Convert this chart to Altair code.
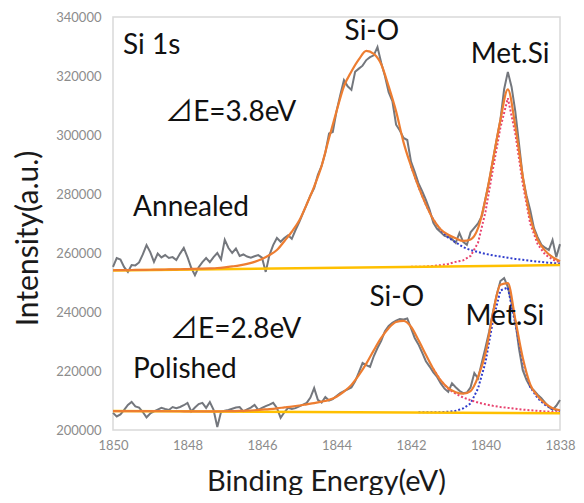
import altair as alt
import pandas as pd

# ---------------- data ----------------
energy_raw = [round(1850 - 0.1 * i, 1) for i in range(121)]   # 1850.0 -> 1838.0
energy_fit = [round(1850 - 0.2 * i, 1) for i in range(61)]    # 1850.0 -> 1838.0

annealed_raw = [
    255300, 258300, 257800, 255200, 253600, 255900, 255800, 256800, 259500, 262700,
    260300, 257000, 259800, 258500, 259300, 258300, 258600, 257600, 259800, 261700,
    258600, 255000, 252500, 255200, 256900, 258300, 256900, 258600, 260000, 257800,
    264500, 261700, 260000, 261500, 259000, 259500, 258800, 258400, 258900, 259300,
    258400, 253600, 259300, 262700, 265100, 263800, 265100, 266000, 264800, 267800,
    270500,
    273500, 276500, 279500, 282000, 286500, 289500, 294000, 300500, 301000, 308000,
    313500, 318600, 316500, 315300, 321400, 322500, 323500, 325400, 326400, 327000,
    329800, 324500, 320000, 314500, 311500, 303500, 301500, 299000, 298300, 291000,
    287500, 283700, 281000, 278000, 274600, 270200, 268200, 267000, 265800, 265500,
    264700, 263400, 266800, 263800, 262800, 267000, 268500, 270000, 272500, 278500,
    284500, 291500, 298500, 305100, 315500, 321400, 316300, 308000, 297000, 285800,
    279500, 274600, 268500, 265400, 262800, 261800, 261000, 264400, 258600, 263000,
]

polished_raw = [
    205800, 204600, 205300, 206800, 208500, 209500, 208000, 207600, 206100, 204300,
    205600, 206300, 206900, 207500, 207100, 206800, 207800, 207400, 207800, 208400,
    209200, 206300, 207600, 208800, 209200, 207500, 209500, 206800, 201000, 206100,
    206500, 206800, 207200, 207600, 207800, 206300, 207000, 207600, 208500, 206800,
    207500, 208100, 208600, 209200, 207500, 204100, 206000, 207500, 207100, 207400,
    208000, 208600, 209200, 211000, 214200, 210200, 209300, 211200, 210000, 210500,
    211500, 212500, 213200, 213800, 214400, 216500, 219500, 222700, 222000, 221400,
    225000, 227800, 230200, 233500, 235300, 236300, 237100, 237600, 237500, 237800,
    234500, 231200, 229000, 226200, 223300, 221500, 219500, 218000, 215800, 214000,
    212900, 215800, 214500, 213300, 212500, 212700, 214500, 219300, 217500, 222800,
    228000, 233500, 240000, 245800, 250500, 251500, 248500, 243000, 237000, 227500,
    220300, 217000, 214600, 213400, 212000, 210800, 209300, 207800, 206900, 208200,
    210200,
]

annealed_fit = [
    254150, 254190, 254220, 254260, 254290, 254330, 254370, 254410, 254450, 254500,
    254560, 254630, 254710, 254800, 254920, 255150, 255450, 255800, 256300, 257000,
    258000, 259300, 261000, 264000, 267200, 271000, 276500, 282500, 289500, 299000,
    308000, 316500, 321500, 325600, 328500, 327500, 324000, 316500, 308000, 297500,
    289500, 282500, 276400, 271300, 268000, 266200, 265000, 264100, 264600, 268400,
    278300, 291500, 305000, 315500, 303000, 286000, 272000, 264500, 260800, 258600,
    257200,
]

polished_fit = [
    206420, 206420, 206410, 206400, 206390, 206380, 206370, 206360, 206350, 206350,
    206340, 206330, 206330, 206330, 206340, 206360, 206400, 206450, 206550, 206700,
    206900, 207100, 207350, 207650, 207950, 208300, 208700, 209100, 209600, 210200,
    211300, 213000, 215300, 218600, 222500, 227000, 231200, 234500, 236600, 237000,
    235000, 230500, 225500, 220700, 216800, 214200, 212800, 212300, 213200, 218000,
    226000, 239500, 249200, 249800, 237500, 224500, 215500, 211500, 209000, 207400,
    206700,
]

# component peaks (only where they leave the envelope / baseline)
ann_metsi_energy = [1842.0, 1841.8, 1841.6, 1841.4, 1841.2, 1841.0, 1840.8, 1840.6, 1840.4, 1840.2,
                    1840.0, 1839.8, 1839.6, 1839.4, 1839.2, 1839.0, 1838.8, 1838.6, 1838.4, 1838.2, 1838.0]
ann_metsi = [255300, 255330, 255400, 255600, 255900, 256300, 257000, 257500, 259000, 263500,
             274000, 288500, 302500, 312500, 300500, 283500, 270000, 263000, 259500, 257800, 256800]
ann_sio_energy = ann_metsi_energy
ann_sio = [289500, 282500, 276400, 271300, 267700, 265200, 263600, 262000, 261000, 260300,
           259700, 259200, 258800, 258400, 258000, 257700, 257400, 257100, 256800, 256600, 256400]

pol_sio_energy = [1841.4, 1841.2, 1841.0, 1840.8, 1840.6, 1840.4, 1840.2, 1840.0, 1839.8, 1839.6,
                  1839.4, 1839.2, 1839.0, 1838.8, 1838.6, 1838.4, 1838.2, 1838.0]
pol_sio = [220700, 216700, 213900, 212300, 211000, 210100, 209300, 208700, 208200, 207800,
           207500, 207200, 206900, 206700, 206500, 206300, 206100, 206000]
pol_metsi_energy = [1841.8, 1841.6, 1841.4, 1841.2, 1841.0, 1840.8, 1840.6, 1840.4, 1840.2, 1840.0,
                    1839.8, 1839.6, 1839.4, 1839.2, 1839.0, 1838.8, 1838.6, 1838.4, 1838.2, 1838.0]
pol_metsi = [205980, 206000, 206020, 206050, 206200, 206500, 207300, 209000, 214100, 223000,
             237000, 247300, 248300, 236000, 223300, 214600, 210800, 208500, 207000, 206400]

baseline_energy = [1850.0, 1838.0]
annealed_baseline = [254100, 255900]
polished_baseline = [206400, 205700]

x_ticks = [1850, 1848, 1846, 1844, 1842, 1840, 1838]
y_ticks = [200000, 220000, 240000, 260000, 280000, 300000, 320000, 340000]

labels_left = ["Si 1s", "\u22bfE=3.8eV", "Annealed", "\u22bfE=2.8eV", "Polished"]
labels_left_x = [1849.73, 1848.60, 1849.46, 1848.47, 1849.46]
labels_left_y = [327500, 304750, 272550, 231200, 217600]
labels_center = ["Si-O", "Met.Si", "Si-O", "Met.Si"]
labels_center_x = [1843.05, 1839.34, 1842.38, 1839.48]
labels_center_y = [332200, 324400, 242000, 235600]

# ---------------- build table ----------------
rows = []


def add(sample, series, xs, ys):
    for x, y in zip(xs, ys):
        rows.append({"sample": sample, "series": series, "energy": x, "intensity": y})


add("Annealed", "raw", energy_raw, annealed_raw)
add("Polished", "raw", energy_raw, polished_raw)
add("Annealed", "fit", energy_fit, annealed_fit)
add("Polished", "fit", energy_fit, polished_fit)
add("Annealed", "base", baseline_energy, annealed_baseline)
add("Polished", "base", baseline_energy, polished_baseline)
add("Annealed", "blue", ann_sio_energy, ann_sio)
add("Annealed", "red", ann_metsi_energy, ann_metsi)
add("Polished", "red", pol_sio_energy, pol_sio)
add("Polished", "blue", pol_metsi_energy, pol_metsi)
df = pd.DataFrame(rows)

lab_l = pd.DataFrame({"energy": labels_left_x, "intensity": labels_left_y, "text": labels_left})
lab_c = pd.DataFrame({"energy": labels_center_x, "intensity": labels_center_y, "text": labels_center})

FONT = "Lato, 'Noto Sans CJK JP', sans-serif"

x_enc = alt.X(
    "energy:Q",
    scale=alt.Scale(domain=[1838, 1850], reverse=True, nice=False, zero=False),
    axis=alt.Axis(
        values=x_ticks, format="d", title="Binding Energy(eV)", grid=False, ticks=False,
        domain=False, labelFlush=False, labelPadding=9, labelFont=FONT, labelFontSize=13,
        labelColor="#8c8c8c",
        titleFont=FONT, titleFontSize=29, titleFontWeight="normal", titleColor="#1a1a1a",
        titleX=213, titleY=60, titleAlign="center", titleBaseline="alphabetic",
    ),
)
y_enc = alt.Y(
    "intensity:Q",
    scale=alt.Scale(domain=[200000, 340000], nice=False, zero=False),
    axis=alt.Axis(
        values=y_ticks, format="d", title="Intensity(a.u.)", grid=False, ticks=False,
        domain=False, labelFlush=False, labelPadding=12, labelFont=FONT, labelFontSize=13,
        labelColor="#8c8c8c",
        titleFont=FONT, titleFontSize=30, titleFontWeight="normal", titleColor="#1a1a1a",
        titleAngle=270, titleX=-76, titleY=221, titleAlign="center", titleBaseline="alphabetic",
    ),
)

base = alt.Chart(df)


def line_layer(series, **mark):
    return base.transform_filter(alt.datum.series == series).mark_line(**mark).encode(
        x=x_enc, y=y_enc, detail="sample:N", order="idx:Q"
    ).transform_window(idx="row_number()", groupby=["sample"])


raw_l = line_layer("raw", color="#74777d", strokeWidth=2)
blue_l = line_layer("blue", color="#2f3ccc", strokeWidth=2, strokeDash=[2, 2])
red_l = line_layer("red", color="#e8436f", strokeWidth=2, strokeDash=[2, 2])
base_l = line_layer("base", color="#ffc000", strokeWidth=2.5)
fit_l = line_layer("fit", color="#ed7d31", strokeWidth=2.2, interpolate="monotone")

text_l = alt.Chart(lab_l).mark_text(
    align="left", baseline="alphabetic", font=FONT, fontSize=28, color="#111111"
).encode(x=x_enc, y=y_enc, text="text:N")
text_c = alt.Chart(lab_c).mark_text(
    align="center", baseline="alphabetic", font=FONT, fontSize=28, color="#111111"
).encode(x=x_enc, y=y_enc, text="text:N")

chart = alt.layer(raw_l, blue_l, red_l, base_l, fit_l, text_l, text_c).properties(
    width=447, height=413, autosize=alt.AutoSizeParams(type="none"),
    padding={"left": 105, "top": 9, "right": 16, "bottom": 65},
).configure_view(stroke="#d9d9d9", strokeWidth=1.5)

chart.save("out.html", embed_options={"renderer": "svg", "actions": False})
